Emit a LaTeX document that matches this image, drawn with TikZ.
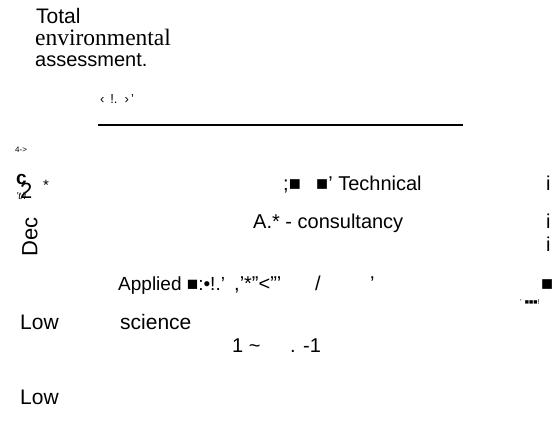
\documentclass[tikz,border=0pt]{standalone}
\usepackage{fontspec}
\setmainfont{Liberation Sans}
\newfontfamily\seriffont{Liberation Serif}
\begin{document}
\begin{tikzpicture}[x = 1pt, y = -1pt,
  lbl/.style = {anchor = base west, inner sep = 0pt, font = \fontsize{20}{24}\selectfont},
  big/.style = {lbl, font = \fontsize{21}{25}\selectfont},
  small/.style = {anchor = base west, inner sep = 0pt, font = \fontsize{13}{14}\selectfont},
  tiny/.style = {anchor = base west, inner sep = 0pt, font = \fontsize{7}{8}\selectfont}]
\useasboundingbox (0,0) rectangle (553,430);
\node[big] at (36,24) (total) {Total};
\node[lbl, font = \fontsize{23.5}{26}\seriffont] at (35,46) (env) {environmental};
\node[lbl] at (35,67) (assess) {assessment.};
\node[small] at (100,104) (marks) {‹ \,!. \,›\,'};
\coordinate (rulel) at (98,125);
\coordinate (ruler) at (463,125);
\draw[line width = 1.5pt] (rulel) -- (ruler);
\node[tiny, font = \fontsize{8}{9}\selectfont] at (15,153) (arr) {4->};
\node[lbl, font = \bfseries\fontsize{19}{22}\selectfont] at (16,185) (c) {c};
\node[big, font = \fontsize{22}{25}\selectfont] at (20,198) (two) {2};
\node[lbl, font = \fontsize{15}{18}\selectfont] at (43,190) (star) {*};
\node[tiny, font = \itshape\fontsize{10}{12}\selectfont] at (16,200) (tslash) {'t/i};
\node[big, font = \fontsize{22}{25}\selectfont, rotate = 90, anchor = center] at (30,237) (dec) {Dec};
\node[lbl] at (283,191) (semi) {;■};
\node[lbl] at (316,191) (tech) {■' Technical};
\node[lbl] at (546,191) (i1) {i};
\node[lbl] at (253,228) (cons) {A.* - consultancy};
\node[lbl] at (546,228) (i2) {i};
\node[lbl] at (546,251) (i3) {i};
\node[lbl, font = \fontsize{19}{23}\selectfont] at (118,290) (appl) {Applied ■:•!.'};
\node[lbl] at (234,290) (quotes) {,'*"<'''};
\node[lbl] at (315,290) (slash) {/};
\node[lbl] at (370,290) (apos) {'};
\node[lbl] at (541,290) (sq) {■};
\node[tiny] at (520,304) (dots) {'\, ■■■!};
\node[big] at (20,329) (low1) {Low};
\node[big] at (120,329) (sci) {science};
\node[lbl] at (232,352) (num1) {1 \textasciitilde};
\node[lbl] at (290,352) (num2) {. -1};
\node[big] at (20,404) (low2) {Low};
\end{tikzpicture}
\end{document}
